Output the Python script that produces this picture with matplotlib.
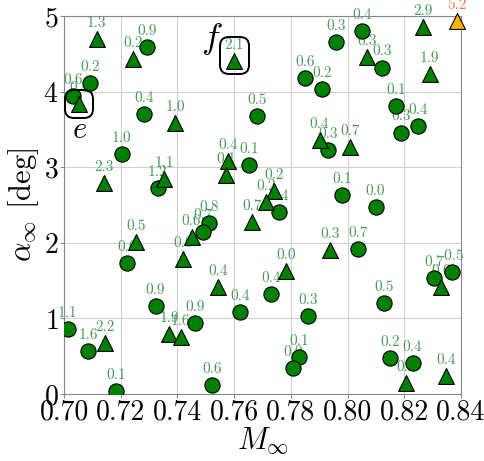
import matplotlib
matplotlib.use('Agg')
import matplotlib.pyplot as plt
from matplotlib.offsetbox import AnnotationBbox, DrawingArea

plt.rcParams['font.family'] = 'serif'
plt.rcParams['font.serif'] = ['cmr10']
plt.rcParams['mathtext.fontset'] = 'cm'
plt.rcParams['axes.formatter.use_mathtext'] = True

# circles
circ_x = [0.7292, 0.7092, 0.7031, 0.7283, 0.7680, 0.7203, 0.7330, 0.7653, 0.7959, 0.8050,
          0.8121, 0.7850, 0.7909, 0.8170, 0.8189, 0.8250, 0.7930, 0.7980, 0.8099, 0.7759,
          0.7513, 0.7489, 0.7223, 0.7323, 0.7621, 0.7462, 0.7013, 0.7086, 0.7183, 0.7521,
          0.7730, 0.8038, 0.8306, 0.8370, 0.8129, 0.7860, 0.7830, 0.7809, 0.8150, 0.8229]
circ_y = [4.59, 4.12, 3.94, 3.71, 3.68, 3.17, 2.72, 3.03, 4.66, 4.80,
          4.32, 4.18, 4.03, 3.81, 3.46, 3.54, 3.23, 2.63, 2.48, 2.41,
          2.26, 2.15, 1.73, 1.17, 1.09, 0.94, 0.86, 0.57, 0.04, 0.12,
          1.32, 1.92, 1.54, 1.61, 1.21, 1.03, 0.49, 0.35, 0.47, 0.41]
circ_lbl = ['0.9', '0.2', '0.6', '0.4', '0.5', '1.0', '1.2', '0.1', '0.3', '0.4',
            '0.3', '0.6', '0.2', '0.1', '0.3', '0.4', '0.3', '0.1', '0.0', '0.4',
            '0.8', '0.7', '0.6', '0.9', '0.4', '0.9', '1.1', '1.6', '0.1', '0.6',
            '0.4', '0.7', '0.7', '-0.5', '0.5', '0.3', '0.1', '0.0', '0.2', '0.4']

# triangles
tri_x = [0.7115, 0.7244, 0.7601, 0.7054, 0.7392, 0.7142, 0.7353, 0.7580, 0.7571, 0.8068,
         0.8267, 0.8289, 0.7901, 0.8009, 0.7742, 0.7713, 0.7662, 0.7450, 0.7253, 0.7421,
         0.7542, 0.7370, 0.7412, 0.7145, 0.7782, 0.7938, 0.8330, 0.8206, 0.8347]
tri_y = [4.70, 4.43, 4.40, 3.84, 3.59, 2.79, 2.85, 3.08, 2.90, 4.46,
         4.86, 4.24, 3.36, 3.27, 2.68, 2.54, 2.28, 2.08, 2.01, 1.79,
         1.41, 0.80, 0.76, 0.67, 1.63, 1.90, 1.42, 0.15, 0.24]
tri_lbl = ['1.3', '0.2', '2.1', '0.4', '1.0', '2.3', '1.1', '0.4', '0.1', '0.3',
           '2.9', '1.9', '0.4', '0.7', '0.2', '0.2', '0.7', '0.6', '0.5', '0.8',
           '0.4', '1.9', '1.6', '2.2', '0.0', '0.3', '0.6', '0.2', '0.4']

# highlighted point
hi_x = [0.8387]
hi_y = [4.94]
hi_lbl = ['5.2']

fig = plt.figure(figsize=(4.85, 4.61), dpi=100)
ax = fig.add_axes([0.132, 0.1453, 0.8185, 0.8197])

green_txt = '#4a9a5a'
ax.scatter(circ_x, circ_y, s=120, marker='o', c='green', edgecolors='black', linewidths=0.8, zorder=3)
ax.scatter(tri_x, tri_y, s=130, marker='^', c='green', edgecolors='black', linewidths=0.8, zorder=3)
ax.scatter(hi_x, hi_y, s=130, marker='^', c='#ffb400', edgecolors='black', linewidths=0.8,
           zorder=3, clip_on=False)

for xs, ys, ls, col in [(circ_x, circ_y, circ_lbl, green_txt), (tri_x, tri_y, tri_lbl, green_txt),
                        (hi_x, hi_y, hi_lbl, '#ee7a50')]:
    for x, y, l in zip(xs, ys, ls):
        ax.annotate(l, (x, y), xytext=(0, 6.5), textcoords='offset points', ha='center',
                    va='bottom', fontsize=11, color=col, zorder=2, annotation_clip=False)

# rounded boxes around e and f
boxprops = dict(boxstyle='round,pad=0.3,rounding_size=0.65', fc='none', ec='black', lw=1.4)
box_e = AnnotationBbox(DrawingArea(14, 14), (tri_x[3], tri_y[3]), frameon=True, zorder=4,
                       bboxprops=boxprops)
ax.add_artist(box_e)
box_f = AnnotationBbox(DrawingArea(15.5, 20.5), (tri_x[2], tri_y[2]), xybox=(0, 4.5),
                       boxcoords='offset points', frameon=True, zorder=4,
                       bboxprops=boxprops)
ax.add_artist(box_f)
ax.annotate('$e$', (tri_x[3], tri_y[3]), xytext=(0, -19), textcoords='offset points',
            ha='center', va='center', fontsize=22)
ax.annotate('$f$', (tri_x[2], tri_y[2]), xytext=(-16, 16), textcoords='offset points',
            ha='center', va='center', fontsize=26)

ax.set_xlim(0.70, 0.84)
ax.set_ylim(0, 5)
ax.set_xticks([0.70, 0.72, 0.74, 0.76, 0.78, 0.80, 0.82, 0.84])
ax.set_xticklabels(['0.70', '0.72', '0.74', '0.76', '0.78', '0.80', '0.82', '0.84'])
ax.set_yticks([0, 1, 2, 3, 4, 5])
ax.tick_params(labelsize=20, color='#888888', length=3, pad=1)
ax.grid(True, color='#d0d0d0', lw=0.8)
ax.set_axisbelow(True)
for sp in ax.spines.values():
    sp.set_color('#888888')

ax.set_xlabel(r'$M_{\infty}$', fontsize=22, labelpad=0)
ax.set_ylabel(r'$\alpha_{\infty}$ [deg]', fontsize=22, labelpad=2)

fig.savefig('out.png', dpi=100)
